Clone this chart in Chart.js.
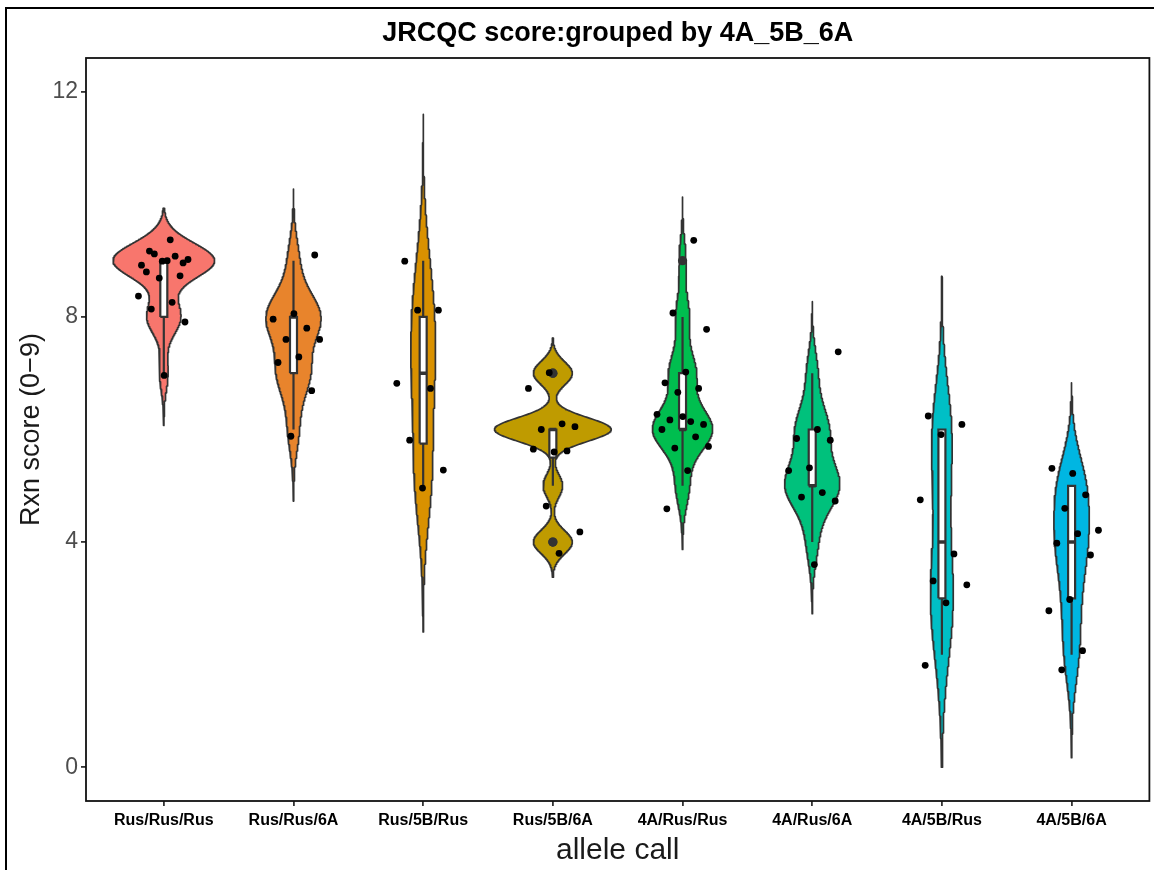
<!DOCTYPE html>
<html>
<head>
<meta charset="utf-8">
<script src="https://cdn.jsdelivr.net/npm/chart.js@4.4.0/dist/chart.umd.min.js"></script>
<style>
  html, body { margin: 0; padding: 0; background: #fff; }
  #wrap { width: 1154px; height: 870px; }
</style>
</head>
<body>
<div id="wrap"><canvas id="violin"></canvas></div>
<script>
// allele call groups, in plotting order
const alleleCalls = ['Rus/Rus/Rus', 'Rus/Rus/6A', 'Rus/5B/Rus', 'Rus/5B/6A',
                     '4A/Rus/Rus', '4A/Rus/6A', '4A/5B/Rus', '4A/5B/6A'];
const groupColors = ['#F8766D', '#E8842C', '#D99100', '#BF9B00',
                     '#00BE4F', '#00C17C', '#00BFC6', '#00B6E2'];

// Rxn scores per line as plotted (height-jittered around the integer score)
const rusRusRus = [9.37, 9.17, 8.96, 8.99, 8.92, 9.08, 9.12, 9.02, 9.00, 8.80, 8.73, 8.69, 8.37, 8.26, 8.14, 7.91, 6.96];
const rusRus6A  = [9.10, 8.06, 7.96, 7.80, 7.60, 7.60, 7.29, 7.19, 6.69, 5.88];
const rus5BRus  = [8.99, 8.12, 8.12, 6.82, 6.73, 5.81, 5.28, 4.96];
const rus5B6A   = [7.01, 6.73, 6.10, 6.00, 6.05, 5.60, 5.65, 5.62, 4.64, 4.18, 3.80];
const a4RusRus  = [9.36, 8.07, 7.78, 7.02, 6.83, 6.73, 6.66, 6.27, 6.14, 6.17, 6.09, 6.23, 6.00, 5.87, 5.67, 5.70, 5.27, 4.59];
const a4Rus6A   = [7.38, 6.00, 5.84, 5.81, 5.32, 5.27, 4.88, 4.80, 4.73, 3.60];
const a45BRus   = [6.24, 6.09, 5.91, 4.75, 3.79, 3.31, 3.24, 2.92, 1.81];
const a45B6A    = [5.22, 5.31, 4.84, 4.60, 4.21, 4.15, 3.98, 3.77, 2.98, 2.78, 2.07, 1.73];
const groupPoints = [rusRusRus, rusRus6A, rus5BRus, rus5B6A, a4RusRus, a4Rus6A, a45BRus, a45B6A];

const yTicks = [0, 4, 8, 12];
const yLimits = [0, 12];

// ---- summary helpers (R defaults: type 7 quantiles, nrd0 bandwidth) ----
function quantile(sorted, p) {
  const h = (sorted.length - 1) * p;
  const lo = Math.floor(h), hi = Math.min(lo + 1, sorted.length - 1);
  return sorted[lo] + (h - lo) * (sorted[hi] - sorted[lo]);
}

function boxStats(scores) {
  const s = scores.slice().sort((a, b) => a - b);
  const q1 = quantile(s, 0.25), med = quantile(s, 0.5), q3 = quantile(s, 0.75);
  const iqr = q3 - q1;
  const inside = s.filter(v => v >= q1 - 1.5 * iqr && v <= q3 + 1.5 * iqr);
  return {
    q1, med, q3,
    lo: inside[0], hi: inside[inside.length - 1],
    outliers: s.filter(v => v < q1 - 1.5 * iqr || v > q3 + 1.5 * iqr)
  };
}

function bwNrd0(scores) {
  const n = scores.length;
  const mean = scores.reduce((a, b) => a + b, 0) / n;
  const sd = Math.sqrt(scores.reduce((a, v) => a + (v - mean) ** 2, 0) / (n - 1));
  const s = scores.slice().sort((a, b) => a - b);
  const iqr = quantile(s, 0.75) - quantile(s, 0.25);
  let lo = Math.min(sd, iqr / 1.34);
  if (!lo) lo = sd || Math.abs(s[0]) || 1;
  return 0.9 * lo * Math.pow(n, -0.2);
}

function density(scores) {
  const n = scores.length, bw = bwNrd0(scores);
  const from = Math.min(...scores) - 3 * bw, to = Math.max(...scores) + 3 * bw;
  const norm = n * bw * Math.sqrt(2 * Math.PI);
  const out = [];
  for (let i = 0; i < 512; i++) {
    const y = from + (to - from) * i / 511;
    let d = 0;
    for (const v of scores) { const z = (y - v) / bw; d += Math.exp(-0.5 * z * z); }
    out.push({ y, d: d / norm });
  }
  return out;
}

// ---- build datasets ----
const scoresByGroup = groupPoints.map(pts => pts.map(v => Math.round(v)));
const densities = scoresByGroup.map(density);
const maxDensity = Math.max(...densities.map(ds => Math.max(...ds.map(p => p.d))));
const violinWidth = 0.9, boxHalf = 0.027;

const datasets = [];
const ink = '#333333';

scoresByGroup.forEach((scores, g) => {
  const cx = g + 1;
  // violin outline: up the right side, down the left side
  const kept = densities[g].filter(p => p.y >= yLimits[0] && p.y <= yLimits[1]);
  const right = kept.map(p => ({ x: cx + p.d / maxDensity * violinWidth / 2, y: p.y }));
  const left = kept.slice().reverse().map(p => ({ x: cx - p.d / maxDensity * violinWidth / 2, y: p.y }));
  datasets.push({
    type: 'scatter', data: right.concat(left, [right[0]]),
    showLine: true, fill: 'shape', backgroundColor: groupColors[g],
    borderColor: ink, borderWidth: 1.7, borderJoinStyle: 'round',
    pointRadius: 0, tension: 0, order: 5
  });

  const st = boxStats(scores);
  const lineSet = (pts, w) => ({
    type: 'scatter', data: pts, showLine: true, fill: false,
    borderColor: ink, borderWidth: w, pointRadius: 0, order: 4
  });
  if (st.lo < st.q1) datasets.push(lineSet([{ x: cx, y: st.lo }, { x: cx, y: st.q1 }], 2.2));
  if (st.hi > st.q3) datasets.push(lineSet([{ x: cx, y: st.q3 }, { x: cx, y: st.hi }], 2.2));
  datasets.push({
    type: 'scatter',
    data: [{ x: cx - boxHalf, y: st.q1 }, { x: cx + boxHalf, y: st.q1 }, { x: cx + boxHalf, y: st.q3 },
           { x: cx - boxHalf, y: st.q3 }, { x: cx - boxHalf, y: st.q1 }],
    showLine: true, fill: 'shape', backgroundColor: '#ffffff',
    borderColor: ink, borderWidth: 2.2, pointRadius: 0, order: 3
  });
  datasets.push(Object.assign(lineSet([{ x: cx - boxHalf, y: st.med }, { x: cx + boxHalf, y: st.med }], 3.5), { order: 2 }));
  if (st.outliers.length) {
    datasets.push({
      type: 'scatter', data: st.outliers.map(v => ({ x: cx, y: v })),
      pointRadius: 4.6, pointBackgroundColor: ink, pointBorderWidth: 0, order: 2
    });
  }

  // jittered raw points
  datasets.push({
    type: 'scatter',
    data: groupPoints[g].map((v, i) => {
      const u = ((i + 1) * 0.6180339887 + g * 0.2718281828) % 1;
      return { x: cx + (u - 0.5) * 0.42, y: v };
    }),
    pointRadius: 3.4, pointBackgroundColor: '#000000', pointBorderWidth: 0, order: 1
  });
});

// plot frame and outer border
const frames = {
  id: 'frames',
  beforeDraw(chart) {
    const ctx = chart.ctx;
    ctx.save();
    ctx.fillStyle = '#ffffff';
    ctx.fillRect(0, 0, chart.width, chart.height);
    ctx.strokeStyle = '#000000';
    ctx.lineWidth = 2;
    ctx.beginPath();
    ctx.moveTo(6, chart.height);
    ctx.lineTo(6, 8);
    ctx.lineTo(chart.width, 8);
    ctx.stroke();
    ctx.restore();
  },
  afterDatasetsDraw(chart) {
    const { ctx, chartArea: a } = chart;
    ctx.save();
    ctx.strokeStyle = '#111111';
    ctx.lineWidth = 1.8;
    ctx.strokeRect(a.left, a.top, a.right - a.left, a.bottom - a.top);
    ctx.restore();
  }
};

Chart.defaults.font.family = "'Liberation Sans', Arial, sans-serif";

new Chart(document.getElementById('violin'), {
  type: 'scatter',
  data: { datasets },
  plugins: [frames],
  options: {
    responsive: true,
    maintainAspectRatio: false,
    animation: false,
    layout: { padding: { left: 6, right: 3, top: 0, bottom: 0 } },
    plugins: {
      legend: { display: false },
      tooltip: { enabled: false },
      title: {
        display: true,
        fullSize: false,
        text: 'JRCQC score:grouped by 4A_5B_6A',
        color: '#000000',
        font: { size: 27, weight: 'bold' },
        padding: { top: 17, bottom: 8.6 }
      }
    },
    scales: {
      x: {
        type: 'linear', min: 0.4, max: 8.6,
        afterBuildTicks: s => { s.ticks = alleleCalls.map((_, i) => ({ value: i + 1 })); },
        afterFit: s => { s.height = 69; },
        ticks: {
          autoSkip: false, maxRotation: 0, padding: 5,
          color: '#000000', font: { size: 16, weight: 'bold' },
          callback: v => alleleCalls[v - 1]
        },
        grid: { drawOnChartArea: false, drawTicks: true, tickLength: 5, color: ink, lineWidth: 1.8 },
        border: { display: false },
        title: { display: true, text: 'allele call', color: '#1a1a1a', font: { size: 30 }, padding: { top: 0, bottom: 1 } }
      },
      y: {
        type: 'linear', min: -0.6, max: 12.6,
        afterBuildTicks: s => { s.ticks = yTicks.map(v => ({ value: v })); },
        afterFit: s => { s.width = 80; },
        ticks: { padding: 3, color: '#4d4d4d', font: { size: 23 } },
        grid: { drawOnChartArea: false, drawTicks: true, tickLength: 5, color: ink, lineWidth: 1.8 },
        border: { display: false },
        title: { display: true, text: 'Rxn score (0\u22129)', color: '#1a1a1a', font: { size: 27 }, padding: { top: 9, bottom: 0 } }
      }
    }
  }
});
</script>
</body>
</html>
